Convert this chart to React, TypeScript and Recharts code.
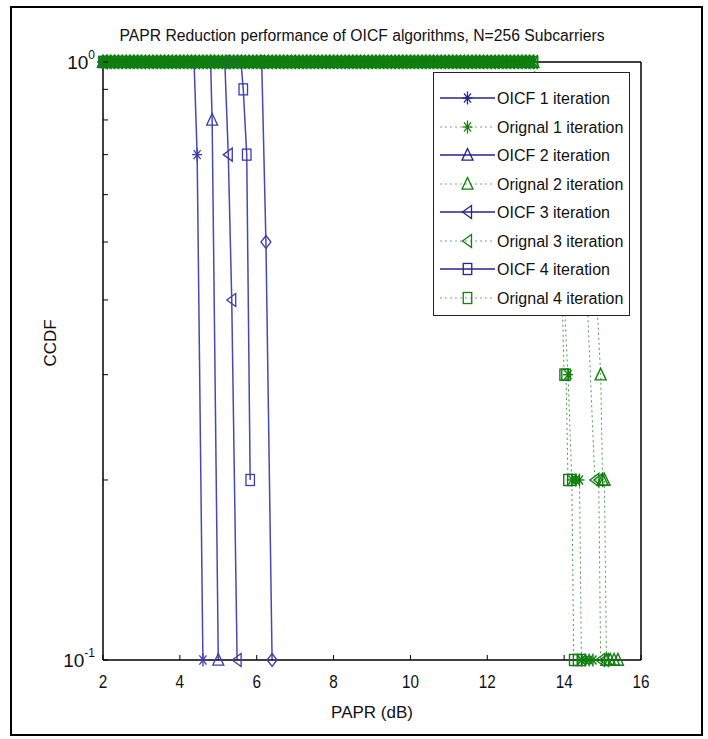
import React from 'react';
import { LineChart, Line, XAxis, YAxis, Legend, Label } from 'recharts';

const FONT = "'Liberation Sans', Arial, Helvetica, sans-serif";

const xTicks = [2, 4, 6, 8, 10, 12, 14, 16];
const yTicks = [0.1, 0.2, 0.3, 0.4, 0.5, 0.6, 0.7, 0.8, 0.9, 1];
const yLabelled = [0.1, 1];

// PAPR grid (dB) over which the original-signal CCDF stays at 1
const bandPapr = [
  2.0, 2.1, 2.2, 2.3, 2.4, 2.5, 2.6, 2.7, 2.8, 2.9,
  3.0, 3.1, 3.2, 3.3, 3.4, 3.5, 3.6, 3.7, 3.8, 3.9,
  4.0, 4.1, 4.2, 4.3, 4.4, 4.5, 4.6, 4.7, 4.8, 4.9,
  5.0, 5.1, 5.2, 5.3, 5.4, 5.5, 5.6, 5.7, 5.8, 5.9,
  6.0, 6.1, 6.2, 6.3, 6.4, 6.5, 6.6, 6.7, 6.8, 6.9,
  7.0, 7.1, 7.2, 7.3, 7.4, 7.5, 7.6, 7.7, 7.8, 7.9,
  8.0, 8.1, 8.2, 8.3, 8.4, 8.5, 8.6, 8.7, 8.8, 8.9,
  9.0, 9.1, 9.2, 9.3, 9.4, 9.5, 9.6, 9.7, 9.8, 9.9,
  10.0, 10.1, 10.2, 10.3, 10.4, 10.5, 10.6, 10.7, 10.8, 10.9,
  11.0, 11.1, 11.2, 11.3, 11.4, 11.5, 11.6, 11.7, 11.8, 11.9,
  12.0, 12.1, 12.2, 12.3, 12.4, 12.5, 12.6, 12.7, 12.8, 12.9,
  13.0, 13.1, 13.2,
];
const bandCcdf = 1;

// OICF curves
const oicf1Papr = [2.0, 4.37, 4.45, 4.6];
const oicf1Ccdf = [1, 1, 0.7, 0.1];
const oicf2Papr = [2.0, 4.8, 4.84, 5.0];
const oicf2Ccdf = [1, 1, 0.8, 0.1];
const oicf3Papr = [2.0, 5.17, 5.26, 5.35, 5.49];
const oicf3Ccdf = [1, 1, 0.7, 0.4, 0.1];
const oicf4Papr = [2.0, 5.59, 5.65, 5.74, 5.83];
const oicf4Ccdf = [1, 1, 0.9, 0.7, 0.2];
const oicf5Papr = [2.0, 6.13, 6.24, 6.4];
const oicf5Ccdf = [1, 1, 0.5, 0.1];

// Original curves after leaving CCDF = 1
const orig1TailPapr = [13.3, 13.6, 13.85, 14.0, 14.1, 14.2, 14.3, 14.4, 14.45, 14.55, 14.65, 14.75];
const orig1TailCcdf = [0.9, 0.7, 0.5, 0.4, 0.3, 0.2, 0.2, 0.2, 0.1, 0.1, 0.1, 0.1];
const orig2TailPapr = [13.3, 13.9, 14.5, 14.85, 14.95, 15.0, 15.05, 15.1, 15.2, 15.3, 15.4];
const orig2TailCcdf = [0.9, 0.7, 0.5, 0.4, 0.3, 0.2, 0.2, 0.1, 0.1, 0.1, 0.1];
const orig3TailPapr = [13.3, 13.8, 14.3, 14.6, 14.8, 14.9, 14.95, 15.05];
const orig3TailCcdf = [0.9, 0.7, 0.5, 0.4, 0.2, 0.2, 0.1, 0.1];
const orig4TailPapr = [13.3, 13.55, 13.8, 13.95, 14.0, 14.05, 14.1, 14.2, 14.25, 14.35, 14.45];
const orig4TailCcdf = [0.9, 0.7, 0.5, 0.4, 0.3, 0.3, 0.2, 0.2, 0.1, 0.1, 0.1];

const legendNames = [
  'OICF 1 iteration',
  'Orignal 1 iteration',
  'OICF 2 iteration',
  'Orignal 2 iteration',
  'OICF 3 iteration',
  'Orignal 3 iteration',
  'OICF 4 iteration',
  'Orignal 4 iteration',
];

const BLUE = '#3b3bb0';
const BLUE_LINE = '#4848b4';
const BLUE_LEG = '#24248f';
const GREEN = '#0f7f0f';

const pts = (papr: number[], ccdf: number[]) => papr.map((x, i) => ({ x, y: ccdf[i] }));
const origPts = (papr: number[], ccdf: number[]) =>
  bandPapr.map((x) => ({ x, y: bandCcdf })).concat(pts(papr, ccdf));

type Shape = 'star' | 'tri' | 'ltri' | 'square' | 'diamond';

const series: { id: string; data: { x: number; y: number }[]; color: string; shape: Shape; dotted: boolean }[] = [
  { id: 'oicf5', data: pts(oicf5Papr, oicf5Ccdf), color: BLUE, shape: 'diamond', dotted: false },
  { id: 'oicf1', data: pts(oicf1Papr, oicf1Ccdf), color: BLUE, shape: 'star', dotted: false },
  { id: 'orig1', data: origPts(orig1TailPapr, orig1TailCcdf), color: GREEN, shape: 'star', dotted: true },
  { id: 'oicf2', data: pts(oicf2Papr, oicf2Ccdf), color: BLUE, shape: 'tri', dotted: false },
  { id: 'orig2', data: origPts(orig2TailPapr, orig2TailCcdf), color: GREEN, shape: 'tri', dotted: true },
  { id: 'oicf3', data: pts(oicf3Papr, oicf3Ccdf), color: BLUE, shape: 'ltri', dotted: false },
  { id: 'orig3', data: origPts(orig3TailPapr, orig3TailCcdf), color: GREEN, shape: 'ltri', dotted: true },
  { id: 'oicf4', data: pts(oicf4Papr, oicf4Ccdf), color: BLUE, shape: 'square', dotted: false },
  { id: 'orig4', data: origPts(orig4TailPapr, orig4TailCcdf), color: GREEN, shape: 'square', dotted: true },
];

const legendShapes: Shape[] = ['star', 'star', 'tri', 'tri', 'ltri', 'ltri', 'square', 'square'];

function Marker({ shape, cx, cy, color, w = 5, h = 6.5, sw = 1.3 }: any) {
  const common = { stroke: color, strokeWidth: sw, fill: 'none' };
  switch (shape) {
    case 'star':
      return (
        <g {...common}>
          <line x1={cx - w} y1={cy} x2={cx + w} y2={cy} />
          <line x1={cx} y1={cy - h} x2={cx} y2={cy + h} />
          <line x1={cx - w * 0.7} y1={cy - h * 0.7} x2={cx + w * 0.7} y2={cy + h * 0.7} />
          <line x1={cx - w * 0.7} y1={cy + h * 0.7} x2={cx + w * 0.7} y2={cy - h * 0.7} />
        </g>
      );
    case 'tri':
      return <polygon {...common} points={`${cx},${cy - h} ${cx + w * 1.1},${cy + h * 0.8} ${cx - w * 1.1},${cy + h * 0.8}`} />;
    case 'ltri':
      return <polygon {...common} points={`${cx - w},${cy} ${cx + w * 0.8},${cy - h} ${cx + w * 0.8},${cy + h}`} />;
    case 'square':
      return <rect {...common} x={cx - w * 0.85} y={cy - h * 0.85} width={w * 1.7} height={h * 1.7} />;
    case 'diamond':
      return <polygon {...common} points={`${cx},${cy - h} ${cx + w},${cy} ${cx},${cy + h} ${cx - w},${cy}`} />;
    default:
      return null;
  }
}

const BottomTick = (p: any) => {
  const { x, y, payload } = p;
  const s = String(payload.value);
  return (
    <g>
      <line x1={x} y1={y} x2={x} y2={y - 5} stroke="#000" strokeWidth={1} />
      <text
        x={x}
        y={y + 28}
        textAnchor="middle"
        fontSize={19}
        fontFamily={FONT}
        fill="#111"
        textLength={s.length * 8.5}
        lengthAdjust="spacingAndGlyphs"
      >
        {s}
      </text>
    </g>
  );
};

const TopTick = (p: any) => {
  const { x, y } = p;
  return <line x1={x} y1={y} x2={x} y2={y + 5} stroke="#000" strokeWidth={1} />;
};

const LeftTick = (p: any) => {
  const { x, y, payload } = p;
  const v = payload.value;
  const labelled = yLabelled.includes(v);
  return (
    <g>
      <line x1={x} y1={y} x2={x + 5} y2={y} stroke="#000" strokeWidth={1} />
      {labelled && (
        <text x={x - 8} y={y + 7} textAnchor="end" fontSize={19} fontFamily={FONT} fill="#111">
          <tspan>10</tspan>
          <tspan dy={-10} fontSize={12}>{v === 1 ? '0' : '-1'}</tspan>
        </text>
      )}
    </g>
  );
};

const RightTick = (p: any) => {
  const { x, y } = p;
  return <line x1={x} y1={y} x2={x - 5} y2={y} stroke="#000" strokeWidth={1} />;
};

const renderLegend = () => (
  <div
    style={{
      width: 197,
      height: 244,
      background: '#fff',
      border: '1px solid #222',
      boxSizing: 'border-box',
      paddingTop: 11,
    }}
  >
    {legendNames.map((name, i) => {
      const isOrig = i % 2 === 1;
      const color = isOrig ? GREEN : BLUE_LEG;
      return (
        <svg key={name} width={195} height={28.5} style={{ display: 'block' }}>
          <line
            x1={6}
            y1={14}
            x2={61}
            y2={14}
            stroke={isOrig ? '#7aaa7a' : BLUE_LEG}
            strokeWidth={isOrig ? 1 : 1.5}
            strokeDasharray={isOrig ? '2 3' : undefined}
          />
          <Marker shape={legendShapes[i]} cx={33.5} cy={14} color={color} />
          <text x={63} y={20} fontSize={16} fontFamily={FONT} fill="#111">
            {name}
          </text>
        </svg>
      );
    })}
  </div>
);

export default function App() {
  return (
    <div style={{ position: 'absolute', left: 0, top: 0, width: 708, height: 739, background: '#fff' }}>
      <div
        style={{
          position: 'absolute',
          left: 10,
          top: 6,
          width: 693,
          height: 730,
          border: '2px solid #000',
          boxSizing: 'border-box',
        }}
      />
      <div style={{ position: 'absolute', left: 0, top: 0 }}>
        <LineChart width={708} height={739} margin={{ top: 32, right: 57, bottom: 39, left: 43 }} style={{ fontFamily: FONT }}>
          <XAxis
            xAxisId="b"
            type="number"
            dataKey="x"
            domain={[2, 16]}
            ticks={xTicks}
            interval={0}
            height={40}
            tickSize={0}
            tickMargin={0}
            tick={BottomTick}
            axisLine={{ stroke: '#000', strokeWidth: 1.5 }}
            tickLine={false}
          >
            <Label
              content={(props: any) => {
                const vb = props.viewBox || { x: 103, y: 660, width: 538 };
                return (
                  <text
                    x={vb.x + vb.width / 2}
                    y={vb.y + 58}
                    textAnchor="middle"
                    fontSize={17}
                    fontFamily={FONT}
                    fill="#111"
                  >
                    PAPR (dB)
                  </text>
                );
              }}
            />
          </XAxis>
          <XAxis
            xAxisId="t"
            orientation="top"
            type="number"
            dataKey="x"
            domain={[2, 16]}
            ticks={xTicks}
            interval={0}
            height={30}
            tickSize={0}
            tickMargin={0}
            tick={TopTick}
            axisLine={{ stroke: '#000', strokeWidth: 1.5 }}
            tickLine={false}
          >
            <Label
              content={(props: any) => {
                const vb = props.viewBox || { x: 103, y: 32, width: 538, height: 30 };
                return (
                  <text
                    x={vb.x + vb.width / 2 - 10}
                    y={vb.y + vb.height - 21}
                    textAnchor="middle"
                    fontSize={16}
                    fontFamily={FONT}
                    fill="#111"
                    textLength={485}
                    lengthAdjust="spacingAndGlyphs"
                  >
                    PAPR Reduction performance of OICF algorithms, N=256 Subcarriers
                  </text>
                );
              }}
            />
          </XAxis>
          <YAxis
            yAxisId="l"
            type="number"
            scale="log"
            domain={[0.1, 1]}
            ticks={yTicks}
            interval={0}
            width={60}
            tickSize={0}
            tickMargin={0}
            tick={LeftTick}
            axisLine={{ stroke: '#000', strokeWidth: 1.5 }}
            tickLine={false}
          >
            <Label
              content={(props: any) => {
                const vb = props.viewBox || { x: 43, y: 62, width: 60, height: 598 };
                const cy = vb.y + vb.height / 2 - 18;
                return (
                  <text x={56} y={cy} transform={`rotate(-90 56 ${cy})`} textAnchor="middle" fontSize={17} fontFamily={FONT} fill="#111">
                    CCDF
                  </text>
                );
              }}
            />
          </YAxis>
          <YAxis
            yAxisId="r"
            orientation="right"
            type="number"
            scale="log"
            domain={[0.1, 1]}
            ticks={yTicks}
            interval={0}
            width={10}
            tickSize={0}
            tickMargin={0}
            tick={RightTick}
            axisLine={{ stroke: '#000', strokeWidth: 1.5 }}
            tickLine={false}
          />
          {series.map((s) => (
            <Line
              key={s.id}
              xAxisId="b"
              yAxisId="l"
              data={s.data}
              dataKey="y"
              type="linear"
              stroke={s.dotted ? '#4f9a4f' : BLUE_LINE}
              strokeWidth={s.dotted ? 1 : 1.5}
              strokeDasharray={s.dotted ? '2 3' : undefined}
              isAnimationActive={false}
              activeDot={false}
              legendType="none"
              dot={(p: any) => {
                if (p.cx == null || p.cy == null || isNaN(p.cx) || isNaN(p.cy)) return <g key={`${s.id}-e-${p.index}`} />;
                return <Marker key={`${s.id}-${p.index}`} shape={s.shape} cx={p.cx} cy={p.cy} color={s.color} sw={s.dotted ? 1.4 : 1.3} />;
              }}
            />
          ))}
          <Legend
            layout="vertical"
            align="center"
            verticalAlign="middle"
            content={renderLegend}
            wrapperStyle={{ position: 'absolute', left: 433, top: 72, width: 197, height: 244 }}
          />
        </LineChart>
      </div>
    </div>
  );
}
